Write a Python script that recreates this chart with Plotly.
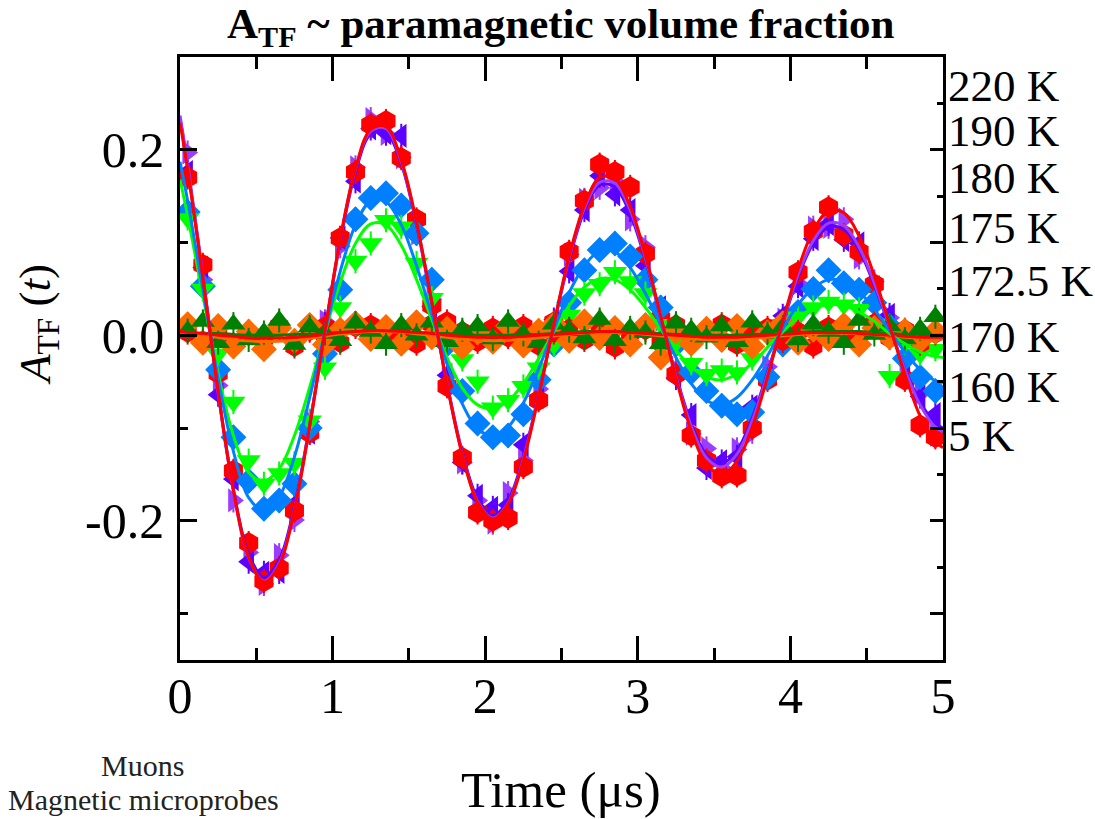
import plotly.graph_objects as go

# ---------------- data ----------------
time_us = [0.05, 0.15, 0.25, 0.35, 0.45, 0.55, 0.65, 0.75, 0.85, 0.95,
           1.05, 1.15, 1.25, 1.35, 1.45, 1.55, 1.65, 1.75, 1.85, 1.95,
           2.05, 2.15, 2.25, 2.35, 2.45, 2.55, 2.65, 2.75, 2.85, 2.95,
           3.05, 3.15, 3.25, 3.35, 3.45, 3.55, 3.65, 3.75, 3.85, 3.95,
           4.05, 4.15, 4.25, 4.35, 4.45, 4.55, 4.65, 4.75, 4.85, 4.95]
fit_time_us = [0.0] + time_us + [5.0]

temperatures = ["220 K", "190 K", "180 K", "175 K", "172.5 K", "170 K", "160 K", "5 K"]

a_220 = [0.170, 0.076, -0.041, -0.146, -0.224, -0.265, -0.251, -0.189, -0.105, 0.009,
         0.105, 0.176, 0.227, 0.231, 0.191, 0.125, 0.032, -0.055, -0.132, -0.191,
         -0.200, -0.197, -0.142, -0.070, 0.014, 0.090, 0.145, 0.184, 0.176, 0.160,
         0.088, 0.018, -0.042, -0.108, -0.135, -0.152, -0.151, -0.100, -0.048, 0.010,
         0.068, 0.112, 0.138, 0.108, 0.090, 0.055, 0.000, -0.048, -0.097, -0.110]
a_190 = [0.197, 0.060, -0.054, -0.178, -0.234, -0.268, -0.237, -0.199, -0.093, 0.015,
         0.096, 0.181, 0.233, 0.217, 0.192, 0.110, 0.039, -0.044, -0.137, -0.178,
         -0.202, -0.170, -0.135, -0.058, -0.002, 0.087, 0.146, 0.159, 0.166, 0.125,
         0.095, 0.017, -0.038, -0.106, -0.122, -0.143, -0.123, -0.104, -0.034, 0.017,
         0.056, 0.116, 0.117, 0.125, 0.084, 0.058, 0.019, -0.043, -0.063, -0.107]
a_180 = [0.176, 0.073, -0.064, -0.155, -0.244, -0.256, -0.255, -0.182, -0.105, 0.012,
         0.105, 0.166, 0.223, 0.218, 0.215, 0.112, 0.031, -0.043, -0.137, -0.173,
         -0.186, -0.183, -0.118, -0.066, 0.017, 0.069, 0.135, 0.172, 0.152, 0.135,
         0.075, 0.030, -0.046, -0.086, -0.143, -0.136, -0.131, -0.077, -0.044, 0.021,
         0.053, 0.104, 0.120, 0.103, 0.099, 0.052, 0.022, -0.045, -0.066, -0.085]
a_175 = [0.133, 0.053, -0.037, -0.110, -0.157, -0.187, -0.178, -0.160, -0.100, -0.020,
         0.049, 0.125, 0.148, 0.153, 0.140, 0.110, 0.060, -0.010, -0.060, -0.095,
         -0.110, -0.108, -0.085, -0.048, -0.010, 0.035, 0.070, 0.092, 0.099, 0.085,
         0.060, 0.030, -0.010, -0.040, -0.060, -0.076, -0.085, -0.083, -0.045, -0.010,
         0.025, 0.050, 0.070, 0.056, 0.049, 0.035, 0.010, -0.025, -0.045, -0.060]
a_172 = [0.126, 0.050, -0.020, -0.072, -0.135, -0.160, -0.149, -0.138, -0.092, -0.035,
         0.030, 0.080, 0.099, 0.124, 0.117, 0.078, 0.040, -0.005, -0.026, -0.050,
         -0.078, -0.070, -0.055, -0.035, -0.010, 0.022, 0.045, 0.055, 0.068, 0.058,
         0.045, 0.012, -0.008, -0.030, -0.042, -0.038, -0.040, -0.025, 0.005, 0.012,
         0.020, 0.030, 0.036, 0.033, 0.028, 0.012, -0.044, -0.008, -0.020, -0.015]
a_170 = [0.012, -0.008, 0.010, -0.012, 0.004, -0.015, 0.008, -0.006, 0.011, -0.010,
         0.006, 0.013, -0.004, 0.009, -0.009, 0.014, -0.002, 0.007, -0.013, 0.003,
         -0.007, 0.010, -0.011, 0.005, 0.012, -0.006, 0.015, -0.003, 0.008, -0.010,
         0.011, -0.024, 0.004, -0.009, 0.007, -0.005, 0.010, -0.012, 0.003, 0.013,
         -0.008, 0.006, -0.004, 0.011, -0.010, 0.008, -0.002, 0.005, -0.006, 0.004]
a_160 = [0.005, 0.015, -0.008, 0.012, -0.005, 0.003, 0.016, -0.010, 0.009, 0.002,
         -0.006, 0.013, 0.004, -0.009, 0.011, 0.000, 0.014, -0.007, 0.006, 0.010,
         -0.004, 0.015, 0.001, -0.008, 0.012, 0.005, -0.003, 0.017, -0.006, 0.008,
         0.003, -0.009, 0.013, 0.006, -0.002, 0.010, -0.007, 0.014, 0.002, 0.009,
         -0.005, 0.012, 0.004, -0.008, 0.016, 0.001, 0.010, -0.004, 0.007, 0.020]
a_5 = [0.003, -0.006, 0.008, -0.010, 0.002, -0.004, 0.010, -0.012, 0.005, 0.001,
       -0.008, 0.009, 0.011, -0.003, 0.006, -0.009, 0.012, 0.015, 0.004, -0.007,
       0.008, -0.002, 0.010, -0.011, 0.003, 0.007, -0.005, 0.009, -0.013, 0.002,
       0.006, -0.008, 0.011, -0.004, 0.005, 0.012, -0.010, 0.003, 0.008, -0.006,
       0.004, -0.012, 0.009, 0.001, -0.007, 0.013, -0.003, 0.006, -0.009, 0.002]

# fitted curves, sampled at fit_time_us
fit_220 = [0.229, 0.179, 0.062, -0.061, -0.167, -0.239, -0.266, -0.248, -0.188, -0.098, 0.005,
           0.104, 0.180, 0.222, 0.225, 0.189, 0.122, 0.036, -0.053, -0.129, -0.180,
           -0.198, -0.182, -0.135, -0.066, 0.012, 0.085, 0.140, 0.170, 0.169, 0.139,
           0.086, 0.021, -0.046, -0.103, -0.139, -0.150, -0.136, -0.099, -0.045, 0.015,
           0.071, 0.113, 0.134, 0.132, 0.107, 0.064, 0.011, -0.042, -0.087, -0.115,
           -0.121]
fit_190 = [0.237, 0.185, 0.064, -0.062, -0.168, -0.240, -0.265, -0.246, -0.187, -0.097, 0.005,
           0.103, 0.179, 0.220, 0.223, 0.187, 0.121, 0.036, -0.052, -0.128, -0.179,
           -0.197, -0.181, -0.133, -0.065, 0.012, 0.083, 0.137, 0.165, 0.164, 0.135,
           0.083, 0.020, -0.044, -0.098, -0.132, -0.142, -0.128, -0.092, -0.042, 0.014,
           0.065, 0.102, 0.121, 0.118, 0.095, 0.056, 0.010, -0.037, -0.075, -0.099,
           -0.104]
fit_180 = [0.234, 0.182, 0.063, -0.061, -0.166, -0.236, -0.261, -0.242, -0.184, -0.096, 0.005,
           0.101, 0.176, 0.217, 0.219, 0.185, 0.119, 0.035, -0.052, -0.126, -0.176,
           -0.194, -0.178, -0.131, -0.064, 0.011, 0.081, 0.134, 0.162, 0.160, 0.131,
           0.081, 0.019, -0.043, -0.095, -0.129, -0.138, -0.124, -0.089, -0.040, 0.013,
           0.063, 0.099, 0.117, 0.114, 0.092, 0.054, 0.009, -0.036, -0.072, -0.095,
           -0.100]
fit_175 = [0.187, 0.145, 0.049, -0.047, -0.125, -0.175, -0.189, -0.174, -0.131, -0.067, 0.004,
           0.069, 0.119, 0.145, 0.144, 0.119, 0.075, 0.022, -0.031, -0.074, -0.101,
           -0.108, -0.099, -0.073, -0.036, 0.006, 0.046, 0.075, 0.091, 0.090, 0.073,
           0.045, 0.011, -0.024, -0.052, -0.070, -0.075, -0.067, -0.048, -0.022, 0.007,
           0.033, 0.051, 0.060, 0.058, 0.047, 0.028, 0.005, -0.018, -0.037, -0.049,
           -0.051]
fit_172 = [0.168, 0.129, 0.043, -0.041, -0.108, -0.148, -0.157, -0.144, -0.108, -0.056, 0.003,
           0.057, 0.099, 0.120, 0.119, 0.097, 0.060, 0.017, -0.024, -0.057, -0.075,
           -0.079, -0.071, -0.052, -0.025, 0.004, 0.032, 0.052, 0.061, 0.060, 0.049,
           0.030, 0.007, -0.016, -0.034, -0.045, -0.048, -0.042, -0.030, -0.013, 0.004,
           0.019, 0.029, 0.033, 0.032, 0.025, 0.015, 0.002, -0.009, -0.018, -0.023,
           -0.024]
fit_170 = [0.0035, 0.0025, 0.0002, -0.0022, -0.0044, -0.0060, -0.0066, -0.0063, -0.0052, -0.0032, -0.0009,
           0.0013, 0.0030, 0.0040, 0.0041, 0.0033, 0.0018, -0.0002, -0.0022, -0.0041, -0.0053,
           -0.0058, -0.0054, -0.0043, -0.0026, -0.0007, 0.0011, 0.0025, 0.0032, 0.0032, 0.0025,
           0.0012, -0.0005, -0.0022, -0.0036, -0.0046, -0.0049, -0.0045, -0.0035, -0.0021, -0.0006,
           0.0008, 0.0019, 0.0024, 0.0023, 0.0017, 0.0006, -0.0007, -0.0020, -0.0031, -0.0038,
           -0.0040]
fit_160 = [0.004, 0.003, 0.002, 0.002, 0.001, 0.000, 0.000, 0.000, 0.001, 0.001, 0.002,
           0.003, 0.004, 0.004, 0.004, 0.004, 0.003, 0.002, 0.002, 0.001, 0.000,
           0.000, 0.000, 0.001, 0.001, 0.002, 0.003, 0.004, 0.004, 0.004, 0.004,
           0.003, 0.002, 0.001, 0.001, 0.000, 0.000, 0.000, 0.001, 0.001, 0.002,
           0.003, 0.004, 0.004, 0.004, 0.004, 0.003, 0.002, 0.001, 0.001, 0.000,
           0.000]
fit_5 = [0.004, 0.003, 0.002, 0.000, -0.001, -0.003, -0.003, -0.003, -0.002, -0.001, 0.001,
         0.003, 0.004, 0.005, 0.005, 0.004, 0.003, 0.002, 0.000, -0.001, -0.002,
         -0.002, -0.002, -0.001, 0.000, 0.001, 0.002, 0.003, 0.004, 0.004, 0.003,
         0.002, 0.001, 0.000, -0.001, -0.002, -0.002, -0.002, -0.001, 0.000, 0.001,
         0.002, 0.003, 0.003, 0.003, 0.002, 0.001, 0.000, -0.001, -0.002, -0.002,
         -0.002]

asym_error = 0.013

x_ticks = [0, 1, 2, 3, 4, 5]
x_tick_labels = ["0", "1", "2", "3", "4", "5"]
y_ticks = [-0.2, 0.0, 0.2]
y_tick_labels = ["-0.2", "0.0", "0.2"]

# ---------------- styles ----------------
FONT = "Liberation Serif"
style = {
    "220 K": dict(color="#ff0000", symbol="hexagon", size=22),
    "190 K": dict(color="#9b3cff", symbol="triangle-right", size=21),
    "180 K": dict(color="#5c00ff", symbol="triangle-left", size=21),
    "175 K": dict(color="#0080ff", symbol="diamond", size=20),
    "172.5 K": dict(color="#00ff00", symbol="triangle-down", size=21),
    "170 K": dict(color="#ff6a00", symbol="diamond", size=20),
    "160 K": dict(color="#008000", symbol="triangle-up", size=21),
    "5 K": dict(color="#ff0000", symbol="hexagon", size=21),
}
data_by_T = {"220 K": a_220, "190 K": a_190, "180 K": a_180, "175 K": a_175,
             "172.5 K": a_172, "170 K": a_170, "160 K": a_160, "5 K": a_5}
fit_by_T = {"220 K": fit_220, "190 K": fit_190, "180 K": fit_180, "175 K": fit_175,
            "172.5 K": fit_172, "170 K": fit_170, "160 K": fit_160, "5 K": fit_5}

marker_order = ["190 K", "180 K", "220 K", "175 K", "172.5 K", "5 K", "170 K", "160 K"]
line_order = ["160 K", "170 K", "5 K", "172.5 K", "175 K", "180 K", "190 K", "220 K"]

fig = go.Figure()
for T in marker_order:
    s = style[T]
    fig.add_trace(go.Scatter(
        x=time_us, y=data_by_T[T], mode="markers", name=T, showlegend=False,
        marker=dict(color=s["color"], symbol=s["symbol"], size=s["size"], line=dict(width=0)),
        error_y=dict(type="constant", value=asym_error, color=s["color"], thickness=2, width=0),
    ))
for T in line_order:
    s = style[T]
    fig.add_trace(go.Scatter(
        x=fit_time_us, y=fit_by_T[T], mode="lines", name=T + " fit", showlegend=False,
        line=dict(color=s["color"], width=3, shape="spline", smoothing=1.0),
        yaxis="y2" if T == "220 K" else "y",
    ))

# ---------------- layout ----------------
PL, PR, PT, PB = 180, 943, 57, 660
W, H = 1095, 819


def px(xp):
    return (xp - PL) / (PR - PL)


def py(yp):
    return (PB - yp) / (PB - PT)


y_range = [-0.35, 0.30]
axis_common = dict(showgrid=False, zeroline=False, linecolor="black", linewidth=2.5,
                   tickcolor="black", tickwidth=2.5)

fig.update_layout(
    width=W, height=H,
    margin=dict(l=PL, r=W - PR, t=PT, b=H - PB, pad=0),
    paper_bgcolor="white", plot_bgcolor="white",
    font=dict(family=FONT, color="black"),
    xaxis=dict(range=[0, 5], tickmode="array", tickvals=x_ticks, ticktext=x_tick_labels,
               ticks="inside", ticklen=24, showline=True, mirror="ticks",
               tickfont=dict(size=50, family=FONT), ticklabelstandoff=-10,
               minor=dict(tickvals=[0.5, 1.5, 2.5, 3.5, 4.5], ticks="inside", ticklen=12,
                          tickwidth=2.5, tickcolor="black"),
               **axis_common),
    yaxis=dict(range=y_range, tickmode="array", tickvals=y_ticks, ticktext=y_tick_labels,
               ticks="inside", ticklen=17, showline=True, mirror=True,
               tickfont=dict(size=50, family=FONT), ticklabelstandoff=3,
               minor=dict(tickvals=[-0.3, -0.1, 0.1], ticks="inside", ticklen=8,
                          tickwidth=2.5, tickcolor="black"),
               **axis_common),
    yaxis2=dict(range=y_range, overlaying="y", side="right", tickmode="array",
                tickvals=[-0.3, -0.2, -0.1, 0.0, 0.1, 0.2, 0.3], ticks="inside", ticklen=13,
                showticklabels=False, showline=False,
                minor=dict(tickvals=[-0.25, -0.15, -0.05, 0.05, 0.15, 0.25], ticks="inside",
                           ticklen=6, tickwidth=2.5, tickcolor="black"),
                **axis_common),
)

annotations = []
# title
annotations.append(dict(text="<b>A<sub>TF</sub> ~ paramagnetic volume fraction</b>",
                        x=px(561), y=py(27), xref="paper", yref="paper",
                        xanchor="center", yanchor="middle", showarrow=False,
                        font=dict(size=43, family=FONT, color="black")))
# axis titles
annotations.append(dict(text="Time (\u03bcs)", x=px(561), y=py(790), xref="paper", yref="paper",
                        xanchor="center", yanchor="middle", showarrow=False,
                        font=dict(size=51, family=FONT, color="black")))
annotations.append(dict(text="<i>A</i><sub>TF</sub> (<i>t</i>)", x=px(38), y=py(325),
                        xref="paper", yref="paper", xanchor="center", yanchor="middle",
                        textangle=-90, showarrow=False,
                        font=dict(size=45, family=FONT, color="black")))
# bottom-left caption
annotations.append(dict(text="Muons", x=px(142), y=py(765), xref="paper", yref="paper",
                        xanchor="center", yanchor="middle", showarrow=False,
                        font=dict(size=30, family=FONT, color="#222222")))
annotations.append(dict(text="Magnetic microprobes", x=px(143), y=py(799), xref="paper",
                        yref="paper", xanchor="center", yanchor="middle", showarrow=False,
                        font=dict(size=30, family=FONT, color="#222222")))
# temperature labels
label_y_px = [86, 131, 178, 228, 281, 337, 387, 436]
for T, ly in zip(temperatures, label_y_px):
    annotations.append(dict(text=T, x=px(946), y=py(ly), xref="paper", yref="paper",
                            xanchor="left", yanchor="middle", showarrow=False,
                            font=dict(size=45, family=FONT, color="black")))
fig.update_layout(annotations=annotations)

fig.write_html("out.html")
